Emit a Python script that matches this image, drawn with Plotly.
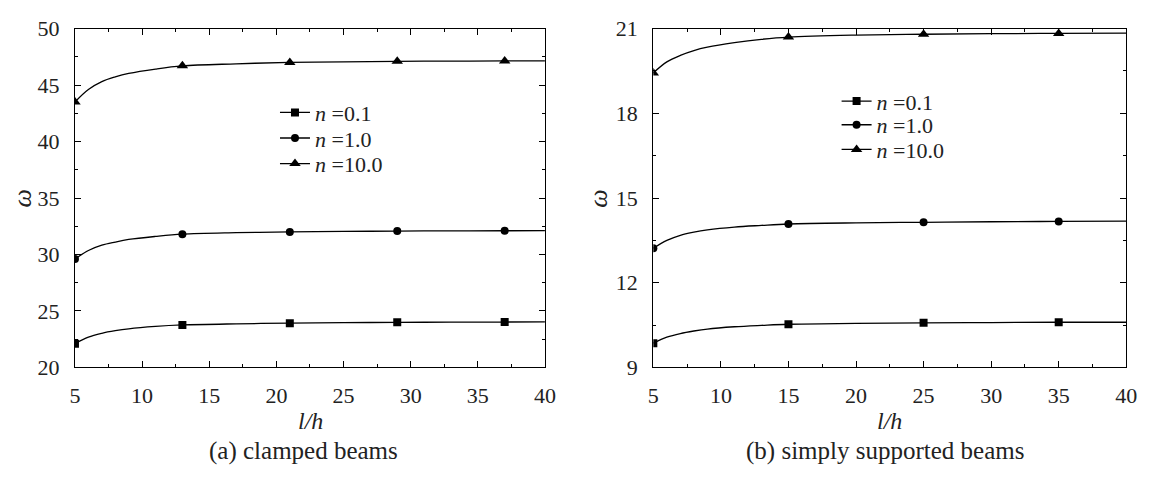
import plotly.graph_objects as go

# ---------------- data ----------------
# (a) clamped beams
a_curve_x = [5, 6, 7, 8, 9, 11, 13, 17, 21, 25, 29, 33, 37, 40]
a_curve_n01 = [22.1, 22.68, 23.02, 23.25, 23.42, 23.63, 23.76, 23.86, 23.92, 23.96, 23.99, 24.01, 24.02, 24.03]
a_curve_n1 = [29.6, 30.35, 30.82, 31.1, 31.33, 31.6, 31.8, 31.93, 32.0, 32.04, 32.07, 32.09, 32.1, 32.11]
a_curve_n10 = [43.5, 44.6, 45.3, 45.72, 46.03, 46.42, 46.7, 46.88, 47.0, 47.05, 47.1, 47.12, 47.14, 47.15]

a_mark_x = [5, 13, 21, 29, 37]
a_mark_n01 = [22.1, 23.76, 23.92, 23.99, 24.02]
a_mark_n1 = [29.6, 31.8, 32.0, 32.07, 32.1]
a_mark_n10 = [43.5, 46.7, 47.0, 47.1, 47.14]

# (b) simply supported beams
b_curve_x = [5, 6, 7, 8, 9, 11, 13, 15, 20, 25, 30, 35, 40]
b_curve_n01 = [9.86, 10.07, 10.2, 10.29, 10.36, 10.44, 10.49, 10.53, 10.56, 10.58, 10.59, 10.6, 10.6]
b_curve_n1 = [13.22, 13.5, 13.68, 13.79, 13.87, 13.97, 14.03, 14.08, 14.12, 14.14, 14.16, 14.17, 14.18]
b_curve_n10 = [19.43, 19.82, 20.05, 20.22, 20.34, 20.5, 20.62, 20.7, 20.77, 20.8, 20.82, 20.83, 20.84]

b_mark_x = [5, 15, 25, 35]
b_mark_n01 = [9.86, 10.53, 10.58, 10.6]
b_mark_n1 = [13.22, 14.08, 14.14, 14.17]
b_mark_n10 = [19.43, 20.7, 20.8, 20.83]

series_names = ["<i>n</i> =0.1", "<i>n</i> =1.0", "<i>n</i> =10.0"]
symbols = ["square", "circle", "triangle-up"]
sizes = [8, 8, 10]

a_x_ticks = [5, 10, 15, 20, 25, 30, 35, 40]
a_y_ticks = [20, 25, 30, 35, 40, 45, 50]
b_x_ticks = [5, 10, 15, 20, 25, 30, 35, 40]
b_y_ticks = [9, 12, 15, 18, 21]

captions = ["(a) clamped beams", "(b) simply supported beams"]

# ---------------- figure ----------------
FONT = "Liberation Serif"
INK = "#222"
W, H = 1155, 479
fig = go.Figure()


def px_x(p):
    return p / W


def px_y(p):
    return (H - p) / H


# legend positions (pixel): left x, and centre y of each row
legend_rows = {
    "a": (273, [113, 140, 167]),
    "b": (843, [101, 126, 152]),
}
ROW_OFFSET = 29  # distance from legend top to the first row centre

panels = [
    ("a", "x", "y", a_curve_x, [a_curve_n01, a_curve_n1, a_curve_n10],
     a_mark_x, [a_mark_n01, a_mark_n1, a_mark_n10]),
    ("b", "x2", "y2", b_curve_x, [b_curve_n01, b_curve_n1, b_curve_n10],
     b_mark_x, [b_mark_n01, b_mark_n1, b_mark_n10]),
]

legend_layout = {}
leg_idx = 1
for key, xa, ya, cx, cys, mx, mys in panels:
    for i in range(3):
        fig.add_trace(go.Scatter(
            x=cx, y=cys[i], mode="lines",
            line=dict(color="black", width=1.3, shape="spline", smoothing=1.0),
            xaxis=xa, yaxis=ya, showlegend=False, hoverinfo="skip"))
        fig.add_trace(go.Scatter(
            x=mx, y=mys[i], mode="markers",
            marker=dict(symbol=symbols[i], size=sizes[i], color="black"),
            xaxis=xa, yaxis=ya, showlegend=False))
    lx, rows = legend_rows[key]
    for i in range(3):
        lname = "legend" if leg_idx == 1 else f"legend{leg_idx}"
        fig.add_trace(go.Scatter(
            x=[None], y=[None], mode="lines+markers", name=series_names[i],
            line=dict(color="black", width=1.3),
            marker=dict(symbol=symbols[i], size=sizes[i], color="black"),
            xaxis=xa, yaxis=ya, legend=lname, showlegend=True))
        legend_layout[lname] = dict(
            x=px_x(lx), y=px_y(rows[i] - ROW_OFFSET), xanchor="left", yanchor="top",
            bgcolor="rgba(0,0,0,0)", borderwidth=0,
            font=dict(family=FONT, size=22, color=INK))
        leg_idx += 1

axis_common = dict(
    showline=True, linecolor="black", linewidth=1.2, mirror="allticks",
    ticks="inside", ticklen=6, tickwidth=1.1, tickcolor="black",
    showgrid=False, zeroline=False, fixedrange=True,
    tickfont=dict(family=FONT, size=22, color=INK),
)

y_dom = [px_y(375), px_y(17.5)]
fig.update_layout(
    width=W, height=H,
    margin=dict(l=0, r=0, t=0, b=0),
    paper_bgcolor="white", plot_bgcolor="white",
    font=dict(family=FONT, color=INK),
    xaxis=dict(domain=[px_x(70), px_x(547)], range=[5, 40], tickvals=a_x_ticks, anchor="y",
               ticklabelstandoff=8,
               minor=dict(ticks="inside", ticklen=3, dtick=2.5, tick0=5, tickcolor="black"),
               **axis_common),
    yaxis=dict(domain=y_dom, range=[20, 50], tickvals=a_y_ticks, anchor="x",
               ticklabelstandoff=10,
               minor=dict(ticks="inside", ticklen=3, dtick=2.5, tick0=20, tickcolor="black"),
               **axis_common),
    xaxis2=dict(domain=[px_x(657), px_x(1137)], range=[5, 40], tickvals=b_x_ticks, anchor="y2",
                ticklabelstandoff=8,
                minor=dict(ticks="inside", ticklen=3, dtick=2.5, tick0=5, tickcolor="black"),
                **axis_common),
    yaxis2=dict(domain=y_dom, range=[9, 21], tickvals=b_y_ticks, anchor="x2",
                ticklabelstandoff=10,
                minor=dict(ticks="inside", ticklen=3, dtick=1.5, tick0=9, tickcolor="black"),
                **axis_common),
    showlegend=True,
    **legend_layout,
)

ann = []
for cx_px in (17, 602):
    ann.append(dict(x=px_x(cx_px), y=px_y(197), xref="paper", yref="paper", text="<i>ω</i>",
                    textangle=-90, showarrow=False, xanchor="center", yanchor="middle",
                    font=dict(family=FONT, size=26, color=INK)))
for cx_px in (309, 897):
    ann.append(dict(x=px_x(cx_px), y=px_y(432), xref="paper", yref="paper", text="<i>l/h</i>",
                    showarrow=False, xanchor="center", yanchor="middle",
                    font=dict(family=FONT, size=24, color=INK)))
for cx_px, txt in zip((302, 892), captions):
    ann.append(dict(x=px_x(cx_px), y=px_y(463), xref="paper", yref="paper", text=txt,
                    showarrow=False, xanchor="center", yanchor="middle",
                    font=dict(family=FONT, size=25, color=INK)))
fig.update_layout(annotations=ann)

fig.write_html("out.html")
